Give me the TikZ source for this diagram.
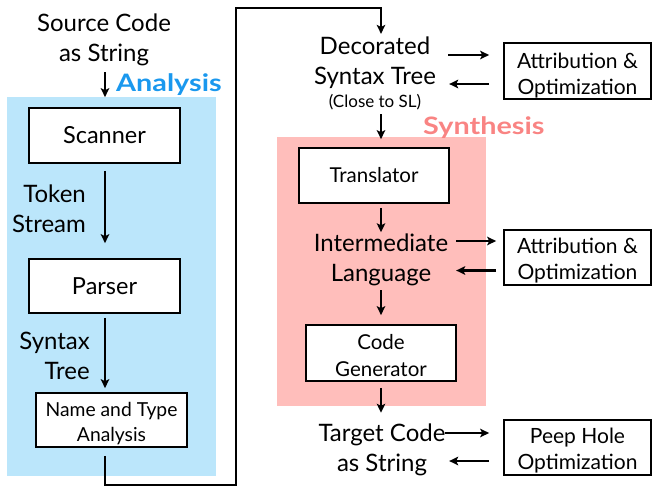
\documentclass[tikz,border=0pt]{standalone}
\usepackage{fontspec}
\setmainfont{Lato}
\usetikzlibrary{arrows.meta,calc}
\definecolor{anabg}{HTML}{BBE6FB}
\definecolor{anatext}{HTML}{1A98EE}
\definecolor{synbg}{HTML}{FFBEBB}
\definecolor{syntext}{HTML}{F98483}
% a taller first line drops two-line texts slightly inside their boxes
\newcommand{\firstline}[1]{\rule{0pt}{#1}}
\begin{document}
\begin{tikzpicture}[x=1pt,y=-1pt,
  box/.style={draw=black, line width=1.7pt, fill=white, inner sep=0pt, align=center},
  bigbox/.style={box, font=\fontsize{23.5}{30}\selectfont},
  smallbox/.style={box, font=\fontsize{20.5}{27}\selectfont},
  sidebox/.style={box, font=\fontsize{21}{26}\selectfont, minimum width=147pt, minimum height=56pt},
  lbl/.style={align=center, inner sep=0pt, font=\fontsize{24}{30}\selectfont},
  phase/.style={inner sep=0pt, anchor=west, font=\fontsize{24}{28}\selectfont\bfseries},
  arr/.style={line width=2.3pt, -{Stealth[length=9pt,width=8.5pt,inset=2pt]}}
]
\useasboundingbox (0,0) rectangle (652,487);

% phase backgrounds
\fill[anabg] (7,97) rectangle (216,476);
\fill[synbg] (277,137) rectangle (486,406);
\node[phase, text=anatext] (analysis) at (116,85) {\scalebox{1.2}[1]{Analysis}};
\node[phase, text=syntext] (synthesis) at (423,128) {\scalebox{1.2}[1]{Synthesis}};

% reference columns for the vertical arrows
\coordinate (lx) at (105,0);
\coordinate (spine) at (381,0);
\coordinate (bot) at (236,485);
\coordinate (top) at (236,8);

% analysis column
\node[lbl] (src) at (104,40) {Source Code\\as String};
\node[bigbox, minimum width=151pt, minimum height=55pt] (sc) at (104.5,135.5) {Scanner};
\node[lbl, align=right, anchor=east] (tok) at (86,209) {Token\\Stream};
\node[bigbox, minimum width=151pt, minimum height=54pt] (pa) at (104.5,286) {Parser};
\node[lbl, align=right, anchor=east] (syn) at (90,356) {Syntax\\Tree};
\node[box, font=\fontsize{19.3}{25}\selectfont, minimum width=151pt, minimum height=54pt] (nt) at (111.5,420) {\firstline{22pt}Name and Type\\Analysis};

% synthesis column
\node[lbl] (dec) at (375,63) {Decorated\\Syntax Tree};
\node[inner sep=0pt, font=\fontsize{17}{20}\selectfont] (decnote) at (375,102) {(Close to SL)};
\node[smallbox, minimum width=150pt, minimum height=55pt] (tr) at (374,175.5) {Translator};
\node[lbl] (il) at (381,260) {Intermediate\\Language};
\node[smallbox, minimum width=150pt, minimum height=56pt] (cg) at (381,353) {\firstline{21pt}Code\\Generator};
\node[lbl] (tgt) at (382,450) {Target Code\\as String};

% optimisation boxes
\node[sidebox] (at1) at (577.5,71) {\firstline{24pt}Attribution \&\\Optimization};
\node[sidebox, minimum height=55pt] (at2) at (577.5,257.5) {\firstline{22pt}Attribution \&\\Optimization};
\node[sidebox, minimum height=55pt] (ph) at (577.5,447.5) {\firstline{21.5pt}Peep Hole\\Optimization};

% main flow
\draw[arr] ([yshift=-6pt]src.south -| lx) -- ([yshift=10pt]sc.north -| lx);
\draw[arr] ([yshift=-7pt]sc.south -| lx) -- ([yshift=15pt]pa.north -| lx);
\draw[arr] ([yshift=-4pt]pa.south -| lx) -- ([yshift=4pt]nt.north -| lx);
\draw[arr] ([yshift=-8pt]nt.south -| lx) -- (lx |- bot) -- (bot) -- (top) -- (top -| spine) -- ([yshift=3pt]dec.north -| spine);
\draw[arr] ([yshift=-4pt]decnote.south -| spine) -- ([yshift=8pt]tr.north -| spine);
\draw[arr] ([yshift=-4pt]tr.south -| spine) -- ([yshift=1.5pt]il.north -| spine);
\draw[arr] ([yshift=-4pt]il.south -| spine) -- ([yshift=9pt]cg.north -| spine);
\draw[arr] ([yshift=-6pt]cg.south -| spine) -- ([yshift=11pt]tgt.north -| spine);

% round trips to the optimisers
\draw[arr] ($(at1.west)+(-55,-16)$) -- ($(at1.west)+(-14,-16)$);
\draw[arr] ($(at1.west)+(-14,13)$) -- ($(at1.west)+(-54,13)$);
\draw[arr] ($(at2.west)+(-47,-16.5)$) -- ($(at2.west)+(-7,-16.5)$);
\draw[arr] ($(at2.west)+(-7,13)$) -- ($(at2.west)+(-47,13)$);
\draw[arr] ($(ph.west)+(-58,-14.5)$) -- ($(ph.west)+(-14,-14.5)$);
\draw[arr] ($(ph.west)+(-14,13.5)$) -- ($(ph.west)+(-54,13.5)$);
\end{tikzpicture}
\end{document}
